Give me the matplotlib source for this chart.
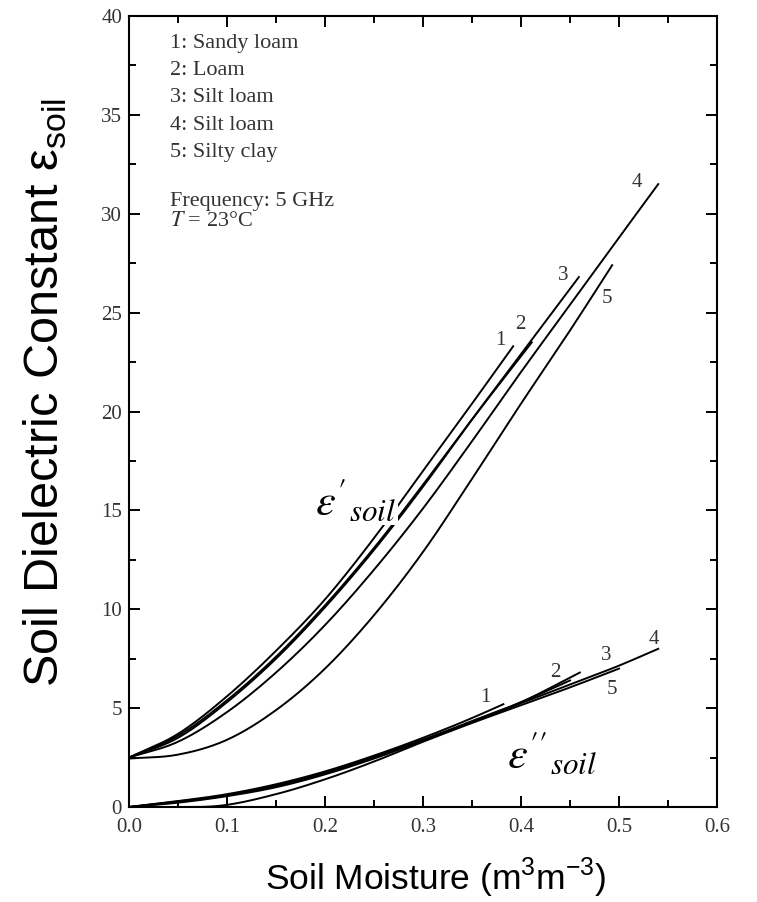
import numpy as np
import matplotlib
matplotlib.use("Agg")
import matplotlib.pyplot as plt
from matplotlib.ticker import MultipleLocator

# soil types (legend text) and curve numbers
soil_names = ["Sandy loam", "Loam", "Silt loam", "Silt loam", "Silty clay"]
curve_ids = ["1", "2", "3", "4", "5"]

real_mv = [
    [0.0, 0.05, 0.10, 0.15, 0.20, 0.25, 0.30, 0.35, 0.392],
    [0.0, 0.05, 0.10, 0.15, 0.20, 0.25, 0.30, 0.35, 0.411],
    [0.0, 0.05, 0.10, 0.15, 0.20, 0.25, 0.30, 0.35, 0.40, 0.459],
    [0.0, 0.05, 0.10, 0.15, 0.20, 0.25, 0.30, 0.35, 0.40, 0.45, 0.50, 0.54],
    [0.0, 0.05, 0.10, 0.15, 0.20, 0.25, 0.30, 0.35, 0.40, 0.45, 0.493],
]
real_eps = [
    [2.5, 3.7, 5.6, 7.9, 10.5, 13.6, 17.0, 20.4, 23.3],
    [2.5, 3.6, 5.4, 7.6, 10.2, 13.1, 16.3, 19.6, 23.5],
    [2.5, 3.5, 5.3, 7.5, 10.1, 13.0, 16.2, 19.6, 22.9, 26.8],
    [2.5, 3.3, 4.8, 6.8, 9.2, 12.0, 15.1, 18.5, 22.0, 25.4, 28.8, 31.5],
    [2.45, 2.65, 3.4, 4.9, 7.0, 9.7, 12.9, 16.6, 20.4, 24.1, 27.4],
]

# imaginary part eps''
imag_mv = [
    [0.0, 0.05, 0.10, 0.15, 0.20, 0.25, 0.30, 0.35, 0.382],
    [0.0, 0.05, 0.10, 0.15, 0.20, 0.25, 0.30, 0.35, 0.40, 0.45],
    [0.0, 0.05, 0.10, 0.15, 0.20, 0.25, 0.30, 0.35, 0.40, 0.46],
    [0.0, 0.05, 0.10, 0.15, 0.20, 0.25, 0.30, 0.35, 0.40, 0.45, 0.50, 0.54],
    [0.0, 0.05, 0.09, 0.15, 0.20, 0.25, 0.30, 0.35, 0.40, 0.45, 0.50],
]
imag_eps = [
    [0.0, 0.30, 0.65, 1.15, 1.80, 2.60, 3.50, 4.50, 5.20],
    [0.0, 0.28, 0.60, 1.10, 1.75, 2.55, 3.40, 4.35, 5.30, 6.40],
    [0.0, 0.25, 0.58, 1.05, 1.70, 2.50, 3.40, 4.30, 5.30, 6.80],
    [0.0, 0.22, 0.55, 1.00, 1.65, 2.45, 3.35, 4.30, 5.25, 6.20, 7.15, 8.00],
    [0.0, 0.00, 0.05, 0.65, 1.40, 2.30, 3.30, 4.25, 5.15, 6.05, 7.00],
]

# where the curve numbers sit
real_lab_xy = [(0.379, 23.6), (0.399, 24.4), (0.443, 26.9), (0.518, 31.6), (0.488, 25.7)]
imag_lab_xy = [(0.364, 5.55), (0.435, 6.8), (0.487, 7.65), (0.536, 8.45), (0.493, 5.95)]


def smooth(xs, ys, n=150):
    # cubic hermite through the read points
    xs = np.asarray(xs, float)
    ys = np.asarray(ys, float)
    m = np.gradient(ys, xs)
    xx = np.linspace(xs[0], xs[-1], n)
    i = np.clip(np.searchsorted(xs, xx) - 1, 0, len(xs) - 2)
    h = xs[i + 1] - xs[i]
    t = (xx - xs[i]) / h
    h00 = 2 * t**3 - 3 * t**2 + 1
    h10 = t**3 - 2 * t**2 + t
    h01 = -2 * t**3 + 3 * t**2
    h11 = t**3 - t**2
    yy = h00 * ys[i] + h10 * h * m[i] + h01 * ys[i + 1] + h11 * h * m[i + 1]
    return xx, yy


serif = "Liberation Serif"
sans = "Liberation Sans"
gray = "#333333"

fig = plt.figure(figsize=(7.57, 9.02), dpi=100)
ax = fig.add_axes([0.1704, 0.1053, 0.7768, 0.8769])

for xs, ys in zip(real_mv, real_eps):
    ax.plot(*smooth(xs, ys), color="black", lw=1.4)
for xs, ys in zip(imag_mv, imag_eps):
    ax.plot(*smooth(xs, ys), color="black", lw=1.4)

for cid, (x, y) in zip(curve_ids, real_lab_xy):
    ax.text(x, y, cid, fontsize=15, family=serif, color=gray, ha="center", va="center")
for cid, (x, y) in zip(curve_ids, imag_lab_xy):
    ax.text(x, y, cid, fontsize=15, family=serif, color=gray, ha="center", va="center")

legend_lines = [f"{c}: {n}" for c, n in zip(curve_ids, soil_names)]
for k, line in enumerate(legend_lines):
    ax.text(0.042, 38.6 - 1.37 * k, line, fontsize=16, family=serif, color=gray, va="center")
ax.text(0.042, 30.6, "Frequency: 5 GHz", fontsize=16, family=serif, color=gray, va="center")
ax.text(0.042, 29.6, "$T$ = 23°C", fontsize=16, family=serif, color=gray, va="center",
        math_fontfamily="stix")

ax.text(0.190, 15.5, r"$\varepsilon'_{soil}$", fontsize=32, math_fontfamily="stix",
        va="center", ha="left", bbox=dict(fc="white", ec="none", pad=1))
ax.text(0.386, 2.7, r"$\varepsilon''_{soil}$", fontsize=32, math_fontfamily="stix",
        va="center", ha="left", bbox=dict(fc="white", ec="none", pad=1))

ax.set_xlim(0, 0.6)
ax.set_ylim(0, 40)
ax.xaxis.set_major_locator(MultipleLocator(0.1))
ax.xaxis.set_minor_locator(MultipleLocator(0.05))
ax.yaxis.set_major_locator(MultipleLocator(5))
ax.yaxis.set_minor_locator(MultipleLocator(2.5))
ax.tick_params(which="both", direction="in", top=True, right=True, width=1.4, colors="black")
ax.tick_params(which="major", length=8, labelsize=15, labelcolor=gray, pad=5)
ax.tick_params(axis="x", which="major", pad=8)
ax.tick_params(which="minor", length=5)
for lab in ax.get_xticklabels() + ax.get_yticklabels():
    lab.set_family(serif)
for sp in ax.spines.values():
    sp.set_linewidth(1.5)

fig.text(0.575, 0.027, "Soil Moisture (m$^{\\mathregular{3}}$m$^{\\mathregular{-3}}$)",
         fontsize=25.5, family=sans, ha="center", va="center")
fig.text(0.06, 0.565, "Soil Dielectric Constant ε$_{\\mathregular{soil}}$",
         fontsize=35, family=sans, rotation=90, ha="center", va="center")

fig.savefig("out.png", dpi=100)
